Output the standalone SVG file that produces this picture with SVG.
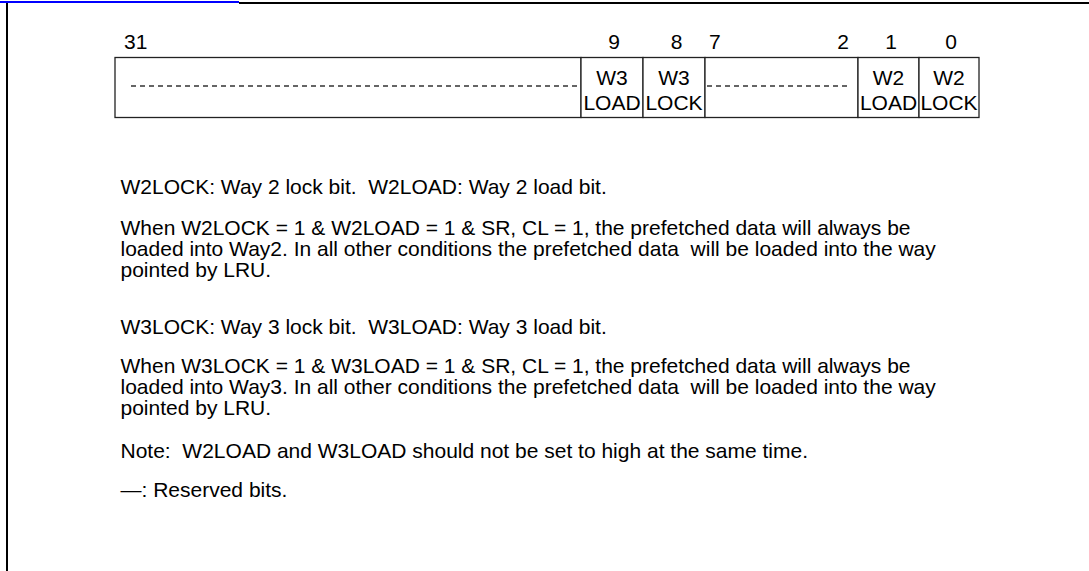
<svg xmlns="http://www.w3.org/2000/svg" width="1089" height="571" viewBox="0 0 1089 571">
<style>
text{font-family:"Liberation Sans",Arial,sans-serif;font-size:21px;fill:#000}
.c{text-anchor:middle}
.cell{fill:#fff;stroke:#222;stroke-width:1.3}
.dash{stroke:#333;stroke-width:1.3;stroke-dasharray:5 4}
</style>
<rect x="0" y="0" width="1089" height="571" fill="#fff"/>
<g id="frame">
<rect x="0" y="1" width="239" height="2" fill="#0000ff"/>
<rect x="239" y="2" width="850" height="2" fill="#000"/>
<rect x="6" y="3" width="2" height="568" fill="#000"/>
</g>
<g id="bitnumbers">
<text x="124" y="49">31</text>
<text class="c" x="614" y="49">9</text>
<text class="c" x="676.5" y="49">8</text>
<text x="709" y="49">7</text>
<text class="c" x="843" y="49">2</text>
<text class="c" x="891" y="49">1</text>
<text class="c" x="951" y="49">0</text>
</g>
<g id="register">
<rect id="reserved-31-10" class="cell" x="115" y="57.5" width="466" height="60"/>
<g id="w3load"><rect class="cell" x="581" y="57.5" width="62" height="60"/><text class="c" x="612" y="85">W3</text><text class="c" x="612" y="110">LOAD</text></g>
<g id="w3lock"><rect class="cell" x="643" y="57.5" width="62" height="60"/><text class="c" x="674" y="85">W3</text><text class="c" x="674" y="110">LOCK</text></g>
<rect id="reserved-7-2" class="cell" x="705" y="57.5" width="153" height="60"/>
<g id="w2load"><rect class="cell" x="858" y="57.5" width="61" height="60"/><text class="c" x="888.5" y="85">W2</text><text class="c" x="888.5" y="110">LOAD</text></g>
<g id="w2lock"><rect class="cell" x="919" y="57.5" width="60" height="60"/><text class="c" x="949" y="85">W2</text><text class="c" x="949" y="110">LOCK</text></g>
<line class="dash" x1="131" y1="86" x2="579" y2="86"/>
<line class="dash" x1="707" y1="86" x2="848" y2="86"/>
</g>
<g id="description">
<text x="120.5" y="194" xml:space="preserve">W2LOCK: Way 2 lock bit.  W2LOAD: Way 2 load bit.</text>
<text x="120.5" y="235">When W2LOCK = 1 &amp; W2LOAD = 1 &amp; SR, CL = 1, the prefetched data will always be</text>
<text x="120.5" y="256" xml:space="preserve">loaded into Way2. In all other conditions the prefetched data  will be loaded into the way</text>
<text x="120.5" y="277">pointed by LRU.</text>
<text x="120.5" y="334" xml:space="preserve">W3LOCK: Way 3 lock bit.  W3LOAD: Way 3 load bit.</text>
<text x="120.5" y="373">When W3LOCK = 1 &amp; W3LOAD = 1 &amp; SR, CL = 1, the prefetched data will always be</text>
<text x="120.5" y="394" xml:space="preserve">loaded into Way3. In all other conditions the prefetched data  will be loaded into the way</text>
<text x="120.5" y="415">pointed by LRU.</text>
<text x="120.5" y="458" xml:space="preserve">Note:  W2LOAD and W3LOAD should not be set to high at the same time.</text>
<text x="120.5" y="497">—: Reserved bits.</text>
</g>
</svg>
